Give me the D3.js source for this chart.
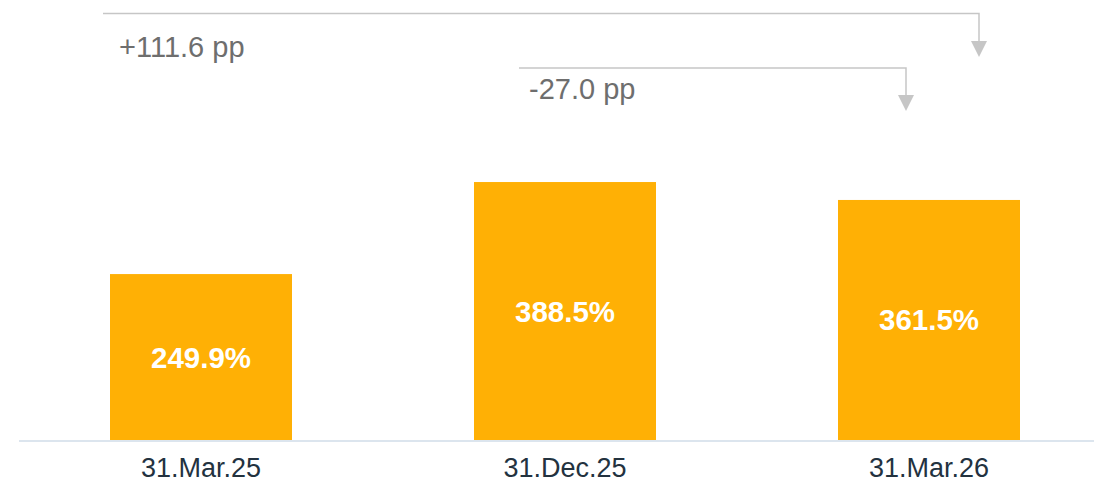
<!DOCTYPE html>
<html>
<head>
<meta charset="utf-8">
<script src="https://cdn.jsdelivr.net/npm/d3@7"></script>
<style>
  html, body { margin: 0; padding: 0; background: #ffffff; }
  svg { display: block; font-family: "Liberation Sans", Arial, sans-serif; }
</style>
</head>
<body>
<svg id="chart" width="1094" height="484"></svg>
<script>
// Coverage ratio by reporting date
const categories = ["31.Mar.25", "31.Dec.25", "31.Mar.26"];
const values = [249.9, 388.5, 361.5];
const valueLabels = ["249.9%", "388.5%", "361.5%"];

// Change brackets: from one period to another
const changeFrom = [0, 1];
const changeTo = [2, 2];
const changeLabels = ["+111.6 pp", "-27.0 pp"];

const svg = d3.select("#chart");

const x = d3.scaleBand()
  .domain(categories)
  .range([19, 1111])
  .paddingInner(0.5)
  .paddingOuter(0.25);

const y = d3.scaleLinear()
  .domain([0, 400])
  .range([440, 174.4]);

// Bars
svg.selectAll("rect.bar")
  .data(values)
  .join("rect")
  .attr("class", "bar")
  .attr("x", (d, i) => x(categories[i]))
  .attr("y", d => y(d))
  .attr("width", x.bandwidth())
  .attr("height", d => y(0) - y(d))
  .attr("fill", "#ffb005");

// Value labels centred in the bars
svg.selectAll("text.val")
  .data(values)
  .join("text")
  .attr("class", "val")
  .attr("x", (d, i) => x(categories[i]) + x.bandwidth() / 2)
  .attr("y", d => (y(d) + y(0)) / 2 + 10.5)
  .attr("text-anchor", "middle")
  .attr("fill", "#ffffff")
  .attr("font-weight", "bold")
  .attr("font-size", 29.5)
  .text((d, i) => valueLabels[i]);

// Baseline
svg.append("line")
  .attr("x1", 19).attr("x2", 1094)
  .attr("y1", y(0) + 1).attr("y2", y(0) + 1)
  .attr("stroke", "#dce5ee")
  .attr("stroke-width", 2);

// Category axis labels
const xAxis = svg.append("g")
  .attr("transform", `translate(0,${y(0) + 1})`)
  .call(d3.axisBottom(x).tickSize(0).tickPadding(36));
xAxis.select(".domain").remove();
xAxis.selectAll("text")
  .attr("font-family", "\"Liberation Sans\", Arial, sans-serif")
  .attr("font-size", 27)
  .attr("fill", "#23323f")
  .attr("dy", "0");

// Change brackets with arrows
const bracketColor = "#c6c6c6";
const bracketTop = [13.5, 68];
const bracketStart = [-98, -46];   // offset from the start bar's centre
const bracketEnd = [50, -23];      // offset from the end bar's centre
const arrowTip = [57, 111];

const centre = i => x(categories[i]) + x.bandwidth() / 2;

changeLabels.forEach((label, k) => {
  const x0 = centre(changeFrom[k]) + bracketStart[k];
  const x1 = centre(changeTo[k]) + bracketEnd[k];
  const yTop = bracketTop[k];
  const tip = arrowTip[k];
  svg.append("path")
    .attr("d", `M${x0},${yTop} H${x1} V${tip - 14}`)
    .attr("fill", "none")
    .attr("stroke", bracketColor)
    .attr("stroke-width", 1.5);
  svg.append("path")
    .attr("d", `M${x1 - 8},${tip - 16} L${x1 + 8},${tip - 16} L${x1},${tip} Z`)
    .attr("fill", bracketColor);
  svg.append("text")
    .attr("x", x0 + (k === 0 ? 16 : 10))
    .attr("y", yTop + (k === 0 ? 43 : 30.5))
    .attr("fill", "#6e6e6e")
    .attr("font-size", 29)
    .text(label);
});
</script>
</body>
</html>
